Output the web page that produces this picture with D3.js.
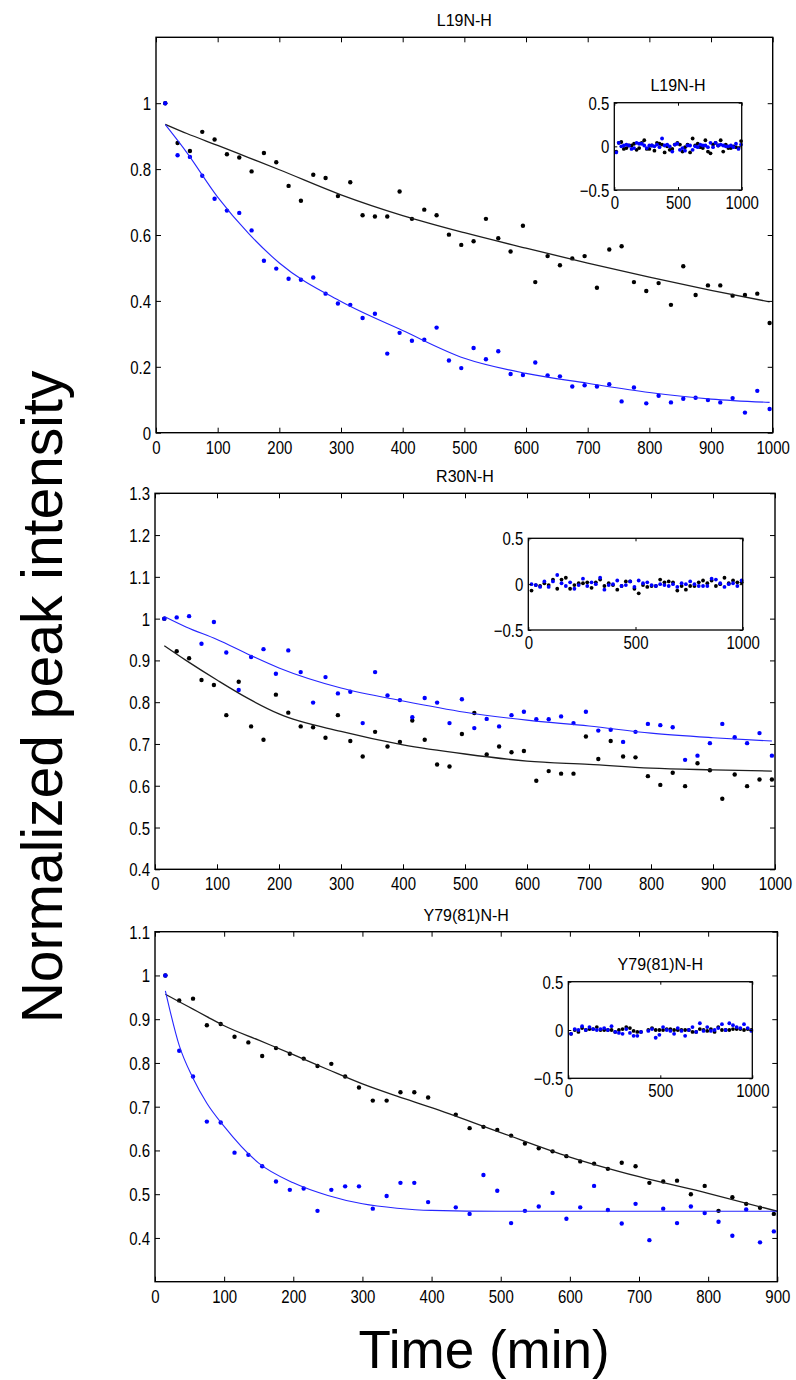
<!DOCTYPE html>
<html>
<head>
<meta charset="utf-8">
<script src="https://cdn.jsdelivr.net/npm/d3@7"></script>
<style>
  body { margin: 0; background: #fff; }
  svg { display: block; }
  text { font-family: "Liberation Sans", Arial, Helvetica, sans-serif; fill: #000; }
</style>
</head>
<body>
<svg id="chart" width="796" height="1380"></svg>
<script>
// ---------------- DATA ----------------
const timeMin = [15,35,55,75,95,115,135,155,175,195,215,235,255,275,295,315,335,355,375,395,
  415,435,455,475,495,515,535,555,575,595,615,635,655,675,695,715,735,755,775,795,
  815,835,855,875,895,915,935,955,975,995];

// L19N-H
const l19Black = [1.0,0.879,0.855,0.913,0.890,0.845,0.835,0.793,0.849,0.821,
  0.749,0.704,0.783,0.773,0.718,0.760,0.660,0.656,0.656,0.732,
  0.649,0.677,0.660,0.601,0.570,0.581,0.649,0.590,0.550,0.628,
  0.457,0.536,0.508,0.529,0.536,0.440,0.556,0.566,0.457,0.430,
  0.454,0.388,0.505,0.418,0.447,0.447,0.416,0.418,0.422,0.333];
const l19Blue = [1.0,0.842,0.837,0.780,0.710,0.674,0.667,0.614,0.522,0.498,
  0.467,0.464,0.471,0.422,0.392,0.388,0.348,0.361,0.240,0.303,
  0.279,0.282,0.319,0.219,0.196,0.257,0.223,0.247,0.178,0.175,
  0.213,0.174,0.171,0.140,0.144,0.140,0.147,0.095,0.137,0.089,
  0.112,0.092,0.103,0.106,0.099,0.092,0.105,0.061,0.127,0.072];
const l19FitTime = [15,50,100,150,200,300,400,500,600,700,800,900,995];
const l19FitBlack = [0.936,0.908,0.872,0.835,0.798,0.722,0.659,0.607,0.560,0.515,0.472,0.432,0.397];
const l19FitBlue = [0.935,0.850,0.715,0.605,0.515,0.398,0.310,0.226,0.180,0.150,0.122,0.102,0.092];
const l19ResBlack = [-0.06,0.04,0.05,-0.03,-0.02,0.01,0.01,0.03,-0.04,-0.02,
  0.04,0.07,-0.03,-0.03,0.01,-0.05,0.04,0.03,0.02,-0.07,
  0.00,-0.04,-0.03,0.02,0.04,0.02,-0.06,-0.01,0.02,-0.07,
  0.09,0.01,0.03,-0.01,-0.02,0.07,-0.06,-0.08,0.02,0.04,
  0.01,0.07,-0.06,0.02,-0.02,-0.02,0.00,-0.01,-0.02,0.06];
const l19ResBlue = [-0.07,0.04,0.00,0.01,0.02,0.01,-0.03,-0.02,0.04,0.03,
  0.03,0.01,-0.02,0.01,0.01,0.00,0.02,-0.01,0.09,0.01,
  0.02,0.00,-0.06,0.02,0.03,-0.04,-0.02,-0.05,0.01,0.01,
  -0.04,0.00,-0.01,0.02,0.01,0.01,-0.01,0.04,-0.01,0.04,
  0.01,0.02,0.01,0.00,0.00,0.01,-0.01,0.03,-0.03,0.02];

// R30N-H
const r30Black = [1.0,0.922,0.905,0.853,0.841,0.769,0.849,0.742,0.710,0.818,
  0.775,0.742,0.740,0.715,0.769,0.707,0.670,0.729,0.694,0.705,
  0.756,0.710,0.651,0.646,0.724,0.774,0.675,0.694,0.680,0.683,
  0.612,0.635,0.629,0.629,0.718,0.664,0.707,0.670,0.668,0.623,
  0.602,0.631,0.599,0.654,0.637,0.569,0.627,0.599,0.615,0.615];
const r30Blue = [1.0,1.003,1.006,0.940,0.992,0.919,0.829,0.908,0.927,0.868,
  0.924,0.872,0.799,0.860,0.821,0.825,0.750,0.872,0.816,0.805,
  0.764,0.810,0.799,0.750,0.807,0.738,0.760,0.742,0.769,0.777,
  0.759,0.759,0.766,0.750,0.777,0.732,0.734,0.705,0.729,0.748,
  0.745,0.740,0.662,0.672,0.702,0.748,0.716,0.702,0.726,0.672];
const r30FitTime = [15,50,100,150,200,300,400,500,600,700,800,900,995];
const r30FitBlack = [0.935,0.900,0.853,0.809,0.772,0.730,0.698,0.676,0.659,0.651,0.642,0.638,0.635];
const r30FitBlue = [1.005,0.980,0.950,0.915,0.882,0.834,0.803,0.776,0.757,0.743,0.726,0.715,0.707];
const r30ResBlack = [-0.07,-0.01,-0.02,0.01,-0.01,0.05,-0.05,0.05,0.07,-0.05,
  -0.01,0.01,0.01,0.02,-0.04,0.02,0.05,-0.02,0.01,-0.01,
  -0.06,-0.02,0.03,0.03,-0.05,-0.10,-0.01,-0.03,-0.02,-0.02,
  0.05,0.02,0.03,0.02,-0.07,-0.02,-0.06,-0.02,-0.02,0.02,
  0.04,0.01,0.04,-0.02,0.00,0.07,0.01,0.04,0.02,0.02];
const r30ResBlue = [0.00,-0.01,-0.03,0.03,-0.03,0.03,0.10,0.01,-0.02,0.02,
  -0.05,-0.01,0.06,-0.02,0.02,0.00,0.07,-0.06,-0.01,0.00,
  0.04,-0.02,-0.01,0.03,-0.03,0.04,0.01,0.02,-0.01,-0.02,
  0.00,-0.01,-0.02,0.00,-0.03,0.01,0.00,0.03,0.00,-0.02,
  -0.02,-0.02,0.06,0.05,0.01,-0.03,0.00,0.01,-0.02,0.04];

// Y79(81)N-H  (main panel shows t <= 900)
const y79Black = [1.0,0.943,0.947,0.886,0.889,0.860,0.847,0.816,0.834,0.821,
  0.810,0.793,0.798,0.769,0.744,0.714,0.714,0.733,0.733,0.721,
  null,0.682,0.651,0.654,0.647,0.634,0.616,0.605,0.598,0.587,
  0.575,0.570,0.558,0.572,0.564,0.526,0.529,0.531,0.500,0.519,
  0.462,0.493,0.478,0.469,0.455];
const y79Blue = [1.0,0.828,0.769,0.666,0.664,0.595,0.590,0.564,0.529,0.510,
  0.513,0.462,0.510,0.518,0.518,0.467,0.496,0.526,0.526,0.482,
  null,0.470,0.455,0.544,0.508,0.434,0.462,0.472,0.503,0.444,
  0.470,0.519,0.464,0.433,0.478,0.395,0.467,0.434,0.472,0.457,
  0.437,0.405,0.465,0.390,0.415];
const y79FitTime = [15,35,55,75,100,150,200,250,300,350,400,500,600,700,800,900];
const y79FitBlack = [0.957,0.940,0.923,0.906,0.885,0.852,0.819,0.785,0.752,0.724,0.698,0.641,0.585,0.540,0.502,0.461];
const y79FitBlue = [0.965,0.840,0.765,0.708,0.655,0.571,0.526,0.497,0.478,0.468,0.463,0.461,0.461,0.461,0.461,0.461];
const y79ResBlack = [-0.04,0.00,-0.02,0.02,0.00,0.01,0.01,0.03,0.00,0.00,
  0.00,0.00,-0.02,0.00,0.01,0.03,0.02,-0.01,-0.02,-0.02,
  null,0.00,0.02,0.00,0.00,0.00,0.01,0.01,0.00,0.00,
  0.00,0.00,0.00,-0.02,-0.02,0.01,0.00,-0.01,0.01,-0.02,
  0.03,0.00,0.00,0.00,0.01,0.01,0.01,0.00,0.01,0.00];
const y79ResBlue = [-0.04,0.01,0.00,0.04,0.00,0.03,0.01,0.00,0.01,0.02,
  0.00,0.04,-0.02,-0.03,-0.04,0.01,-0.03,-0.06,-0.06,-0.02,
  null,-0.01,0.01,-0.08,-0.05,0.03,0.00,-0.01,-0.04,0.02,
  -0.01,-0.06,0.00,0.03,-0.02,0.07,-0.01,0.03,-0.01,0.00,
  0.02,0.06,0.00,0.07,0.05,0.03,0.02,0.06,0.02,-0.01];

// Tick values
const xTicks1000 = [0,100,200,300,400,500,600,700,800,900,1000];
const xTicks900 = [0,100,200,300,400,500,600,700,800,900];
const yTicksL19 = [0,0.2,0.4,0.6,0.8,1];
const yTicksR30 = [0.4,0.5,0.6,0.7,0.8,0.9,1.0,1.1,1.2,1.3];
const yTicksY79 = [0.4,0.5,0.6,0.7,0.8,0.9,1.0,1.1];
const insetXTicks = [0,500,1000];
const insetYTicks = [-0.5,0,0.5];

const titles = ["L19N-H","R30N-H","Y79(81)N-H"];
const yLabel = "Normalized peak intensity";
const xLabel = "Time (min)";

// ---------------- LAYOUT ----------------
const panels = [
  { title: titles[0], time: timeMin, black: l19Black, blue: l19Blue,
    fitTime: l19FitTime, fitBlack: l19FitBlack, fitBlue: l19FitBlue,
    xDomain: [0,1000], yDomain: [0,1.2], xTicks: xTicks1000, yTicks: yTicksL19,
    box: {left:156, right:772.7, top:37.3, bottom:432.7},
    inset: { title: titles[0], resBlack: l19ResBlack, resBlue: l19ResBlue,
      box: {left:614.3, right:741.7, top:102.7, bottom:190} } },
  { title: titles[1], time: timeMin, black: r30Black, blue: r30Blue,
    fitTime: r30FitTime, fitBlack: r30FitBlack, fitBlue: r30FitBlue,
    xDomain: [0,1000], yDomain: [0.4,1.3], xTicks: xTicks1000, yTicks: yTicksR30,
    box: {left:155, right:775, top:493.3, bottom:869.3},
    inset: { title: null, resBlack: r30ResBlack, resBlue: r30ResBlue,
      box: {left:528.3, right:742.7, top:538.3, bottom:630} } },
  { title: titles[2], time: timeMin.slice(0, y79Black.length), black: y79Black, blue: y79Blue,
    fitTime: y79FitTime, fitBlack: y79FitBlack, fitBlue: y79FitBlue,
    xDomain: [0,900], yDomain: [0.3,1.1], xTicks: xTicks900, yTicks: yTicksY79,
    box: {left:155, right:777.3, top:931.7, bottom:1281.7},
    inset: { title: titles[2], resBlack: y79ResBlack, resBlue: y79ResBlue,
      box: {left:568.3, right:752.3, top:981.7, bottom:1078.3} } }
];

const svg = d3.select("#chart");
const fmt = d3.format("~g");
const LABEL_FS = 15, LABEL_SY = 1.2;

function drawAxes(g, x, y, xTicks, yTicks, tick, xLabOff) {
  const [yb, yt] = y.range();
  const [xl, xr] = x.range();
  const styleAxis = a => {
    a.attr("font-size", null).attr("font-family", null);
    a.select(".domain").remove();
    a.selectAll(".tick line").attr("stroke", "#000").attr("stroke-width", 1);
  };
  g.append("g").attr("transform", `translate(0,${yb})`)
    .call(d3.axisBottom(x).tickValues(xTicks).tickSize(-tick).tickFormat(fmt))
    .call(styleAxis)
    .call(a => a.selectAll("text").attr("y", 0).attr("dy", null)
      .attr("font-size", LABEL_FS).attr("fill", "#000")
      .attr("transform", `translate(0,${xLabOff}) scale(1,${LABEL_SY})`));
  g.append("g").attr("transform", `translate(0,${yt})`)
    .call(d3.axisTop(x).tickValues(xTicks).tickSize(-tick).tickFormat(""))
    .call(styleAxis);
  g.append("g").attr("transform", `translate(${xl},0)`)
    .call(d3.axisLeft(y).tickValues(yTicks).tickSize(-tick).tickFormat(fmt))
    .call(styleAxis)
    .call(a => a.selectAll("text").attr("x", -5).attr("y", 0).attr("dy", "0.36em")
      .attr("font-size", LABEL_FS).attr("fill", "#000")
      .attr("transform", `scale(1,${LABEL_SY})`));
  g.append("g").attr("transform", `translate(${xr},0)`)
    .call(d3.axisRight(y).tickValues(yTicks).tickSize(-tick).tickFormat(""))
    .call(styleAxis);
}

function dots(g, x, y, time, vals, color, r) {
  const data = vals.map((v, i) => ({t: time[i], v})).filter(d => d.v != null);
  g.append("g").selectAll("circle").data(data).join("circle")
    .attr("cx", d => x(d.t)).attr("cy", d => y(d.v)).attr("r", r).attr("fill", color);
}

function fitLine(g, x, y, time, vals, color, w) {
  const data = vals.map((v, i) => ({t: time[i], v}));
  const line = d3.line().x(d => x(d.t)).y(d => y(d.v)).curve(d3.curveMonotoneX);
  g.append("path").datum(data).attr("d", line)
    .attr("fill", "none").attr("stroke", color).attr("stroke-width", w);
}

panels.forEach(p => {
  const b = p.box;
  const x = d3.scaleLinear().domain(p.xDomain).range([b.left, b.right]);
  const y = d3.scaleLinear().domain(p.yDomain).range([b.bottom, b.top]);
  const g = svg.append("g");

  dots(g, x, y, p.time, p.black, "#000", 2.2);
  dots(g, x, y, p.time, p.blue, "#0000ff", 2.2);
  fitLine(g, x, y, p.fitTime, p.fitBlack, "#1e1e1e", 1.3);
  fitLine(g, x, y, p.fitTime, p.fitBlue, "#2626ff", 1.1);

  g.append("rect").attr("x", b.left).attr("y", b.top)
    .attr("width", b.right - b.left).attr("height", b.bottom - b.top)
    .attr("fill", "none").attr("stroke", "#000").attr("stroke-width", 1.4);
  drawAxes(g, x, y, p.xTicks, p.yTicks, 5, 21);

  g.append("text").attr("x", (b.left + b.right) / 2).attr("y", b.top - 11)
    .attr("text-anchor", "middle").attr("font-size", 16).text(p.title);

  // inset with residuals
  const ib = p.inset.box;
  const ix = d3.scaleLinear().domain([0, 1000]).range([ib.left, ib.right]);
  const iy = d3.scaleLinear().domain([-0.5, 0.5]).range([ib.bottom, ib.top]);
  const ig = svg.append("g");
  ig.append("rect").attr("x", ib.left).attr("y", ib.top)
    .attr("width", ib.right - ib.left).attr("height", ib.bottom - ib.top)
    .attr("fill", "#fff");
  dots(ig, ix, iy, timeMin, p.inset.resBlack, "#000", 1.9);
  dots(ig, ix, iy, timeMin, p.inset.resBlue, "#0000ff", 1.9);
  ig.append("rect").attr("x", ib.left).attr("y", ib.top)
    .attr("width", ib.right - ib.left).attr("height", ib.bottom - ib.top)
    .attr("fill", "none").attr("stroke", "#000").attr("stroke-width", 1.3);
  drawAxes(ig, ix, iy, insetXTicks, insetYTicks, 3, 19);
  if (p.inset.title) {
    ig.append("text").attr("x", (ib.left + ib.right) / 2).attr("y", ib.top - 12)
      .attr("text-anchor", "middle").attr("font-size", 16).text(p.inset.title);
  }
});

// global axis labels
svg.append("text").attr("transform", "translate(62,697) rotate(-90)")
  .attr("text-anchor", "middle").attr("font-size", 57).text(yLabel);
svg.append("text").attr("x", 484).attr("y", 1368)
  .attr("text-anchor", "middle").attr("font-size", 53).text(xLabel);
</script>
</body>
</html>
